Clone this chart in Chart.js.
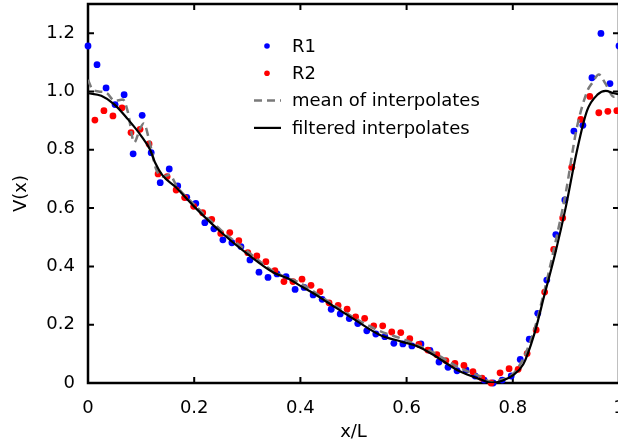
<!DOCTYPE html>
<html>
<head>
<meta charset="utf-8">
<script src="https://cdn.jsdelivr.net/npm/chart.js@4"></script>
<style>
  html, body { margin: 0; padding: 0; background: #fff; overflow: hidden; }
  #wrap { width: 640px; height: 445px; }
</style>
</head>
<body>
<div id="wrap"><canvas id="chart" width="640" height="445"></canvas></div>
<script>
// R1 samples (blue dots)
var r1X = [0.000,0.017,0.034,0.051,0.068,0.085,0.102,0.119,0.136,0.153,
           0.169,0.186,0.203,0.220,0.237,0.254,0.271,0.288,0.305,0.322,
           0.339,0.356,0.373,0.390,0.407,0.424,0.441,0.458,0.475,0.492,
           0.508,0.525,0.542,0.559,0.576,0.593,0.610,0.627,0.644,0.661,
           0.678,0.695,0.712,0.729,0.746,0.763,0.780,0.797,0.814,0.831,
           0.847,0.864,0.881,0.898,0.915,0.932,0.949,0.966,0.983,1.000];
var r1Y = [1.156,1.092,1.012,0.955,0.989,0.786,0.918,0.790,0.687,0.734,
           0.676,0.637,0.616,0.550,0.529,0.491,0.481,0.468,0.422,0.380,
           0.362,0.374,0.365,0.321,0.328,0.302,0.287,0.253,0.237,0.221,
           0.204,0.179,0.168,0.159,0.136,0.134,0.127,0.134,0.112,0.072,
           0.054,0.042,0.045,0.024,0.010,0.000,0.010,0.024,0.081,0.150,
           0.239,0.353,0.509,0.628,0.864,0.884,1.047,1.199,1.027,1.156];

// R2 samples (red dots)
var r2X = [0.013,0.030,0.047,0.064,0.081,0.098,0.115,0.132,0.149,0.166,
           0.182,0.199,0.216,0.233,0.250,0.267,0.284,0.301,0.318,0.335,
           0.352,0.369,0.386,0.403,0.420,0.437,0.454,0.471,0.488,0.504,
           0.521,0.538,0.555,0.572,0.589,0.606,0.623,0.640,0.657,0.674,
           0.691,0.708,0.725,0.742,0.759,0.776,0.793,0.810,0.827,0.844,
           0.860,0.877,0.894,0.911,0.928,0.945,0.962,0.979,0.996];
var r2Y = [0.902,0.934,0.916,0.944,0.859,0.870,0.820,0.717,0.708,0.662,
           0.636,0.606,0.584,0.561,0.513,0.516,0.488,0.447,0.436,0.416,
           0.385,0.348,0.348,0.356,0.335,0.313,0.275,0.266,0.253,0.227,
           0.222,0.196,0.196,0.175,0.173,0.152,0.132,0.113,0.097,0.077,
           0.067,0.060,0.039,0.017,0.000,0.035,0.049,0.047,0.101,0.182,
           0.312,0.458,0.566,0.740,0.904,0.983,0.927,0.932,0.934];

// mean of interpolates (grey dashed)
var meanX = [0,0.008,0.02,0.035,0.05,0.066,0.075,0.087,0.098,0.105,
             0.115,0.128,0.142,0.154,0.167,0.2,0.25,0.3,0.35,0.4,
             0.45,0.5,0.55,0.6,0.65,0.7,0.74,0.76,0.78,0.8,
             0.82,0.84,0.86,0.88,0.9,0.92,0.94,0.95,0.962,0.975,
             0.99,1.0];
var meanY = [1.04,1.008,1.0,0.995,0.968,0.972,0.93,0.825,0.872,0.89,
             0.835,0.735,0.708,0.714,0.675,0.612,0.525,0.452,0.382,0.342,
             0.283,0.225,0.178,0.146,0.105,0.052,0.022,0.003,0.012,0.030,
             0.085,0.18,0.32,0.48,0.655,0.87,1.0,1.03,1.058,1.025,
             0.982,0.985];

// filtered interpolates (black solid)
var filtX = [0,0.025,0.05,0.075,0.1,0.117,0.126,0.14,0.165,0.2,
             0.25,0.3,0.35,0.375,0.4,0.425,0.45,0.5,0.55,0.59,
             0.62,0.65,0.7,0.74,0.76,0.78,0.8,0.82,0.84,0.86,
             0.88,0.9,0.92,0.94,0.96,0.975,0.99,1.0];
var filtY = [0.994,0.985,0.955,0.905,0.848,0.80,0.757,0.713,0.672,0.605,
             0.518,0.443,0.378,0.36,0.333,0.307,0.278,0.220,0.165,0.142,
             0.126,0.097,0.040,0.012,0.001,0.008,0.026,0.065,0.165,0.305,
             0.445,0.605,0.79,0.935,0.990,1.002,0.994,0.990];

// ticks
var xTicks = [0, 0.2, 0.4, 0.6, 0.8, 1];
var xTickLabels = ['0', '0.2', '0.4', '0.6', '0.8', '1'];
var yTicks = [0, 0.2, 0.4, 0.6, 0.8, 1.0, 1.2];
var yTickLabels = ['0', '0.2', '0.4', '0.6', '0.8', '1.0', '1.2'];

function pts(xs, ys) {
  return xs.map(function(x, i) { return {x: x, y: ys[i]}; });
}

Chart.defaults.font.family = '"DejaVu Sans", sans-serif';
Chart.defaults.font.size = 18;
Chart.defaults.color = '#000';

// box round the plot with inward ticks on all four sides
var framePlugin = {
  id: 'frame',
  beforeDatasetsDraw: function(chart) {
    var ctx = chart.ctx, a = chart.chartArea;
    var sx = chart.scales.x, sy = chart.scales.y;
    var tl = 6;
    ctx.save();
    ctx.strokeStyle = '#000';
    ctx.lineWidth = 2;
    ctx.beginPath();
    xTicks.forEach(function(v) {
      var p = sx.getPixelForValue(v);
      ctx.moveTo(p, a.bottom); ctx.lineTo(p, a.bottom - tl);
      ctx.moveTo(p, a.top); ctx.lineTo(p, a.top + tl);
    });
    yTicks.forEach(function(v) {
      var p = sy.getPixelForValue(v);
      ctx.moveTo(a.left, p); ctx.lineTo(a.left + tl, p);
      ctx.moveTo(a.right, p); ctx.lineTo(a.right - tl, p);
    });
    ctx.stroke();
    ctx.lineWidth = 2.5;
    ctx.strokeRect(a.left, a.top, a.right - a.left, a.bottom - a.top);
    ctx.restore();
  }
};

// legend inside the plot
var legendPlugin = {
  id: 'inlineLegend',
  afterDraw: function(chart) {
    var ctx = chart.ctx, a = chart.chartArea;
    var x0 = a.left + 179, y0 = a.top + 42, dy = 27.3;
    ctx.save();
    ctx.font = '18px "DejaVu Sans", sans-serif';
    ctx.textBaseline = 'middle';
    ctx.textAlign = 'left';
    chart.data.datasets.forEach(function(ds, i) {
      var yy = y0 + i * dy;
      if (ds.showLine) {
        ctx.strokeStyle = ds.borderColor;
        ctx.lineWidth = ds.borderWidth;
        ctx.setLineDash(ds.borderDash || []);
        ctx.beginPath();
        ctx.moveTo(x0 - 13, yy); ctx.lineTo(x0 + 14, yy);
        ctx.stroke();
        ctx.setLineDash([]);
      } else {
        ctx.fillStyle = ds.backgroundColor;
        ctx.beginPath();
        ctx.arc(x0, yy, 2.8, 0, Math.PI * 2);
        ctx.fill();
      }
      ctx.fillStyle = '#000';
      ctx.fillText(ds.label, x0 + 25, yy + 1);
    });
    ctx.restore();
  }
};

var chart = new Chart('chart', {
  type: 'scatter',
  data: {
    datasets: [{
      label: 'R1',
      data: pts(r1X, r1Y),
      backgroundColor: '#0000ff',
      borderColor: '#0000ff',
      pointRadius: 3.4,
      pointBorderWidth: 0,
      clip: false,
      order: 4
    }, {
      label: 'R2',
      data: pts(r2X, r2Y),
      backgroundColor: '#ff0000',
      borderColor: '#ff0000',
      pointRadius: 3.4,
      pointBorderWidth: 0,
      clip: false,
      order: 3
    }, {
      label: 'mean of interpolates',
      data: pts(meanX, meanY),
      showLine: true,
      borderColor: '#7a7a7a',
      borderWidth: 2.5,
      borderDash: [8, 5],
      pointRadius: 0,
      cubicInterpolationMode: 'monotone',
      order: 2
    }, {
      label: 'filtered interpolates',
      data: pts(filtX, filtY),
      showLine: true,
      borderColor: '#000000',
      borderWidth: 2.2,
      pointRadius: 0,
      cubicInterpolationMode: 'monotone',
      order: 1
    }]
  },
  options: {
    responsive: false,
    animation: false,
    layout: { padding: { left: 0, right: 21, top: 4, bottom: 0 } },
    plugins: { legend: { display: false }, tooltip: { enabled: false } },
    scales: {
      x: {
        type: 'linear', min: 0, max: 1,
        grid: { display: false, drawTicks: false },
        border: { display: false },
        ticks: {
          padding: 15, autoSkip: false, maxRotation: 0,
          callback: function(v, i) { return xTickLabels[i]; }
        },
        afterBuildTicks: function(s) { s.ticks = xTicks.map(function(v) { return {value: v}; }); },
        afterFit: function(s) { s.paddingLeft = 0; s.paddingRight = 0; s.height = 62; },
        title: { display: true, text: 'x/L', padding: { top: 0, bottom: 2 } }
      },
      y: {
        type: 'linear', min: 0, max: 1.3,
        grid: { display: false, drawTicks: false },
        border: { display: false },
        ticks: {
          padding: 13, autoSkip: false,
          callback: function(v, i) { return yTickLabels[i]; }
        },
        afterBuildTicks: function(s) { s.ticks = yTicks.map(function(v) { return {value: v}; }); },
        afterFit: function(s) { s.paddingTop = 0; s.paddingBottom = 0; s.width = 88; },
        title: { display: true, text: 'V(x)', padding: { top: 11, bottom: 0 } }
      }
    }
  },
  plugins: [framePlugin, legendPlugin]
});
</script>
</body>
</html>
